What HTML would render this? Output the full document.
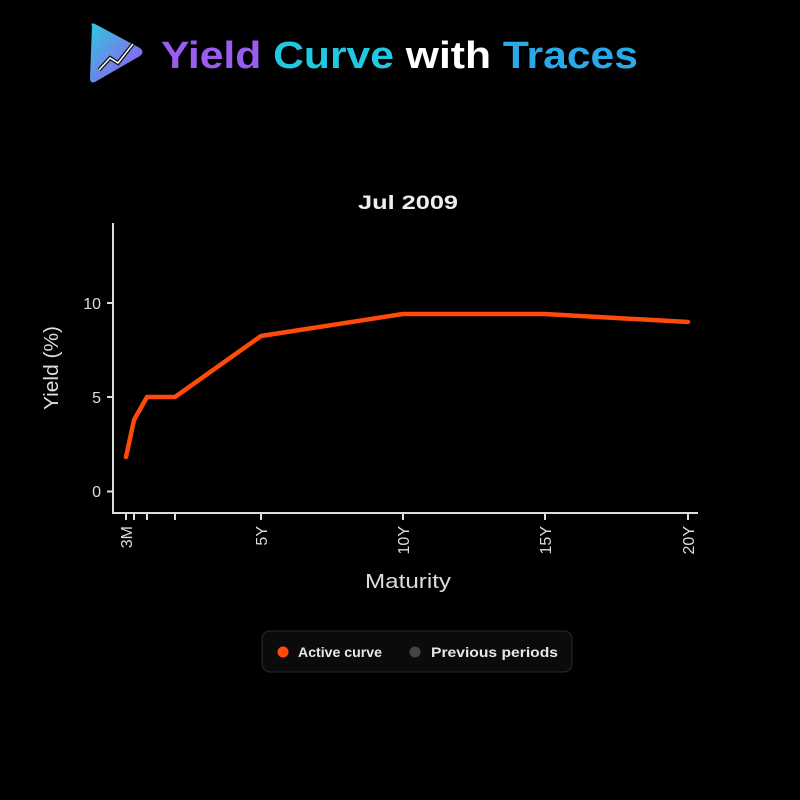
<!DOCTYPE html>
<html><head><style>
html,body{margin:0;padding:0;background:#000;width:800px;height:800px;overflow:hidden}
svg text{font-family:"Liberation Sans",sans-serif}
</style></head><body>
<svg width="800" height="800" viewBox="0 0 800 800" xmlns="http://www.w3.org/2000/svg">
<defs>
<linearGradient id="lg" x1="0" y1="0" x2="1" y2="1">
<stop offset="0" stop-color="#2ec8e0"/><stop offset="1" stop-color="#a04ef0"/></linearGradient>
</defs>
<rect width="800" height="800" fill="#000"/>
<path d="M92 26 Q90 22 95 24 L140 48 Q145 52 140 56 L95 82 Q90 84 90 78 Z" fill="url(#lg)"/>
<polyline points="99,70 110,58 118,63 133,44" fill="none" stroke="#111" stroke-width="4"/>
<polyline points="99,70 110,58 118,63 133,44" fill="none" stroke="#fff" stroke-width="1.5"/>
<text x="161" y="68" font-size="38" font-weight="bold" textLength="477" lengthAdjust="spacingAndGlyphs"><tspan fill="#9b5cf0">Yield</tspan> <tspan fill="#22c8e0">Curve</tspan> <tspan fill="#fff">with</tspan> <tspan fill="#2aa8e8">Traces</tspan></text>
<text x="408" y="209" font-size="19" font-weight="bold" fill="#eee" text-anchor="middle" textLength="100" lengthAdjust="spacingAndGlyphs">Jul 2009</text>
<g stroke="#ddd" stroke-width="2" fill="none">
<line x1="113" y1="223" x2="113" y2="514"/>
<line x1="112" y1="513" x2="698" y2="513"/>
<line x1="107" y1="303" x2="113" y2="303"/>
<line x1="107" y1="397" x2="113" y2="397"/>
<line x1="107" y1="491.5" x2="113" y2="491.5"/>
<line x1="126" y1="513" x2="126" y2="520"/>
<line x1="134" y1="513" x2="134" y2="520"/>
<line x1="147" y1="513" x2="147" y2="520"/>
<line x1="175" y1="513" x2="175" y2="520"/>
<line x1="261" y1="513" x2="261" y2="520"/>
<line x1="403" y1="513" x2="403" y2="520"/>
<line x1="545" y1="513" x2="545" y2="520"/>
<line x1="688" y1="513" x2="688" y2="520"/>
</g>
<g fill="#ddd" font-size="16">
<text x="101" y="309" text-anchor="end">10</text>
<text x="101" y="403" text-anchor="end">5</text>
<text x="101" y="497" text-anchor="end">0</text>
<text transform="translate(132,526) rotate(-90)" text-anchor="end">3M</text>
<text transform="translate(267,526) rotate(-90)" text-anchor="end">5Y</text>
<text transform="translate(409,526) rotate(-90)" text-anchor="end">10Y</text>
<text transform="translate(551,526) rotate(-90)" text-anchor="end">15Y</text>
<text transform="translate(694,526) rotate(-90)" text-anchor="end">20Y</text>
</g>
<text x="408" y="588" font-size="20" fill="#ddd" text-anchor="middle" textLength="86" lengthAdjust="spacingAndGlyphs">Maturity</text>
<text transform="translate(58,368) rotate(-90)" font-size="20" fill="#ddd" text-anchor="middle" textLength="84" lengthAdjust="spacingAndGlyphs">Yield (%)</text>
<polyline points="126,457 134,420 147,397 175,397 261,336 403,314 545,314 688,322" fill="none" stroke="#ff4a0a" stroke-width="4.5" stroke-linejoin="round" stroke-linecap="round"/>
<rect x="262" y="631" width="310" height="41" rx="8" fill="#0b0b0d" stroke="#2a2a2e"/>
<circle cx="283" cy="652" r="5.5" fill="#ff4a0a"/>
<text x="298" y="657" font-size="14" font-weight="bold" fill="#e8e8e8" textLength="84" lengthAdjust="spacingAndGlyphs">Active curve</text>
<circle cx="415" cy="652" r="5.5" fill="#444"/>
<text x="431" y="657" font-size="14" font-weight="bold" fill="#e8e8e8" textLength="127" lengthAdjust="spacingAndGlyphs">Previous periods</text>
</svg>
</body></html>
